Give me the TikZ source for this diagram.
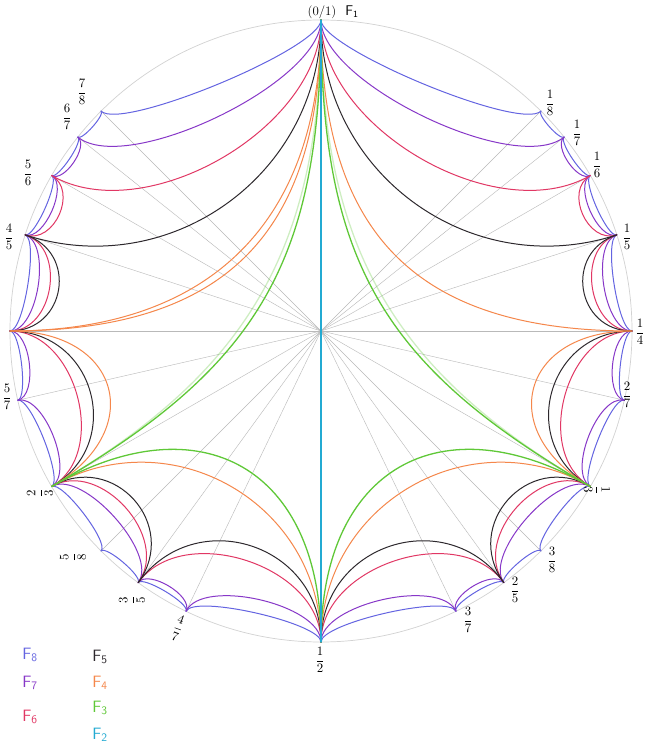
\documentclass[tikz,border=0pt]{standalone}
\usepackage{amsmath}
\definecolor{cF8}{RGB}{100,100,225}
\definecolor{cF7}{RGB}{135,55,200}
\definecolor{cF6}{RGB}{225,55,100}
\definecolor{cF5}{RGB}{45,40,45}
\definecolor{cF4}{RGB}{245,135,75}
\definecolor{cF3}{RGB}{95,200,55}
\definecolor{cF2}{RGB}{35,170,210}
\def\Rad{311}
\newcommand\farc[4]{%
  \pgfmathsetmacro\mytha{90-360*(#3)}%
  \pgfmathsetmacro\mythb{90-360*(#4)}%
  \pgfmathsetmacro\myal{360*((#4)-(#3))}%
  \pgfmathsetmacro\myra{\Rad-(#2)*4/3*tan((180-\myal)/4)*tan(\myal/2)*\Rad}%
  \draw[#1] (\mytha:\Rad) .. controls (\mytha:\myra) and (\mythb:\myra) .. (\mythb:\Rad);%
}
\newcommand\fareylevel[3]{\foreach \x [remember=\x as \lx (initially 0)] in {#3} {\farc{#1}{#2}{\lx}{\x}}}
\tikzset{
  lvl/.style={line width=0.85pt, line cap=round},
  F8/.style={lvl, draw=cF8},
  F7/.style={lvl, draw=cF7},
  F6/.style={lvl, draw=cF6},
  F5/.style={lvl, draw=cF5},
  F4/.style={lvl, draw=cF4},
  F3/.style={lvl, draw=cF3, line width=1.1pt},
  F2/.style={lvl, draw=cF2, line width=1.1pt},
  spoke/.style={draw=gray!55, line width=0.35pt},
  rim/.style={draw=gray!35, line width=0.6pt},
  frac/.style={font=\fontsize{11}{13}\selectfont, inner sep=0pt},
  leg/.style={font=\fontsize{14}{16}\selectfont\sffamily, inner sep=0pt}
}
\begin{document}
\begin{tikzpicture}[x=0.03cm,y=0.03cm]
\useasboundingbox (-321,-423) rectangle (326,331);
\fill[white] (-321,-423) rectangle (326,331);
\coordinate (C) at (0,0);
% rim and spokes
\draw[rim] (C) circle (\Rad);
\foreach \f in {1/8,1/7,1/6,1/5,1/4,2/7,1/3,3/8,2/5,3/7,1/2,4/7,3/5,5/8,2/3,5/7,3/4,4/5,5/6,6/7,7/8}
  \draw[spoke] (C) -- ({90-360*(\f)}:\Rad);
% Farey levels
\fareylevel{F8}{0.25}{1/8,1/7,1/6,1/5,1/4,2/7,1/3,3/8,2/5,3/7,1/2,4/7,3/5,5/8,2/3,5/7,3/4,4/5,5/6,6/7,7/8,1}
\fareylevel{F7}{0.5}{1/7,1/6,1/5,1/4,2/7,1/3,2/5,3/7,1/2,4/7,3/5,2/3,5/7,3/4,4/5,5/6,6/7,1}
\fareylevel{F6}{0.78}{1/6,1/5,1/4,1/3,2/5,1/2,3/5,2/3,3/4,4/5,5/6,1}
\fareylevel{F5}{1.0}{1/5,1/4,1/3,2/5,1/2,3/5,2/3,3/4,4/5,1}
% F4
\farc{F4}{1.25}{0}{1/4}
\farc{F4}{1.3}{1/4}{1/3}
\farc{F4}{1.0}{1/3}{1/2}
\farc{F4}{1.0}{1/2}{2/3}
\farc{F4}{1.3}{2/3}{3/4}
\farc{F4}{1.25}{3/4}{1}
\farc{F4}{1.17}{3/4}{1}
% F3
\farc{F3,opacity=0.3}{1.18}{0}{1/3}
\farc{F3,opacity=0.3}{1.18}{2/3}{1}
\fareylevel{F3}{1.25}{1/3,1/2,2/3,1}
\coordinate (top) at (90:\Rad);
\coordinate (bot) at (-90:\Rad);
\draw[F2] (top) -- (bot);
% labels
\node[frac] (l01) at (1,319) {(0/1)};
\node[frac, font=\fontsize{12}{14}\selectfont\sffamily] (lF1) at (31,319) {F\textsubscript{1}};
\node[frac] (l18) at (229,228) {$\dfrac{1}{8}$};
\node[frac] (l17) at (256,198) {$\dfrac{1}{7}$};
\node[frac] (l16) at (276,166) {$\dfrac{1}{6}$};
\node[frac] (l15) at (306,94) {$\dfrac{1}{5}$};
\node[frac] (l14) at (319,-1) {$\dfrac{1}{4}$};
\node[frac] (l27) at (306,-64) {$\dfrac{2}{7}$};
\node[frac, rotate=-90] (l13) at (276,-159) {$\dfrac{1}{3}$};
\node[frac] (l38) at (231,-229) {$\dfrac{3}{8}$};
\node[frac] (l25) at (194,-259) {$\dfrac{2}{5}$};
\node[frac] (l37) at (147,-289) {$\dfrac{3}{7}$};
\node[frac] (l12) at (-1,-329) {$\dfrac{1}{2}$};
\node[frac, rotate=-20] (l47) at (-143,-297) {$\dfrac{4}{7}$};
\node[frac, rotate=90] (l35) at (-189,-269) {$\dfrac{3}{5}$};
\node[frac, rotate=90] (l58) at (-248,-226) {$\dfrac{5}{8}$};
\node[frac, rotate=90] (l23) at (-281,-162) {$\dfrac{2}{3}$};
\node[frac] (l57) at (-314,-66) {$\dfrac{5}{7}$};
\node[frac] (l45) at (-312,94) {$\dfrac{4}{5}$};
\node[frac] (l56) at (-293,158) {$\dfrac{5}{6}$};
\node[frac] (l67) at (-254,214) {$\dfrac{6}{7}$};
\node[frac] (l78) at (-239,239) {$\dfrac{7}{8}$};
% legend
\node[leg, text=cF8] (g8) at (-291,-324) {F\textsubscript{8}};
\node[leg, text=cF7] (g7) at (-291,-352) {F\textsubscript{7}};
\node[leg, text=cF6] (g6) at (-291,-386) {F\textsubscript{6}};
\node[leg, text=cF5] (g5) at (-221,-326) {F\textsubscript{5}};
\node[leg, text=cF4] (g4) at (-221,-352) {F\textsubscript{4}};
\node[leg, text=cF3] (g3) at (-221,-377) {F\textsubscript{3}};
\node[leg, text=cF2] (g2) at (-221,-404) {F\textsubscript{2}};
\end{tikzpicture}
\end{document}
